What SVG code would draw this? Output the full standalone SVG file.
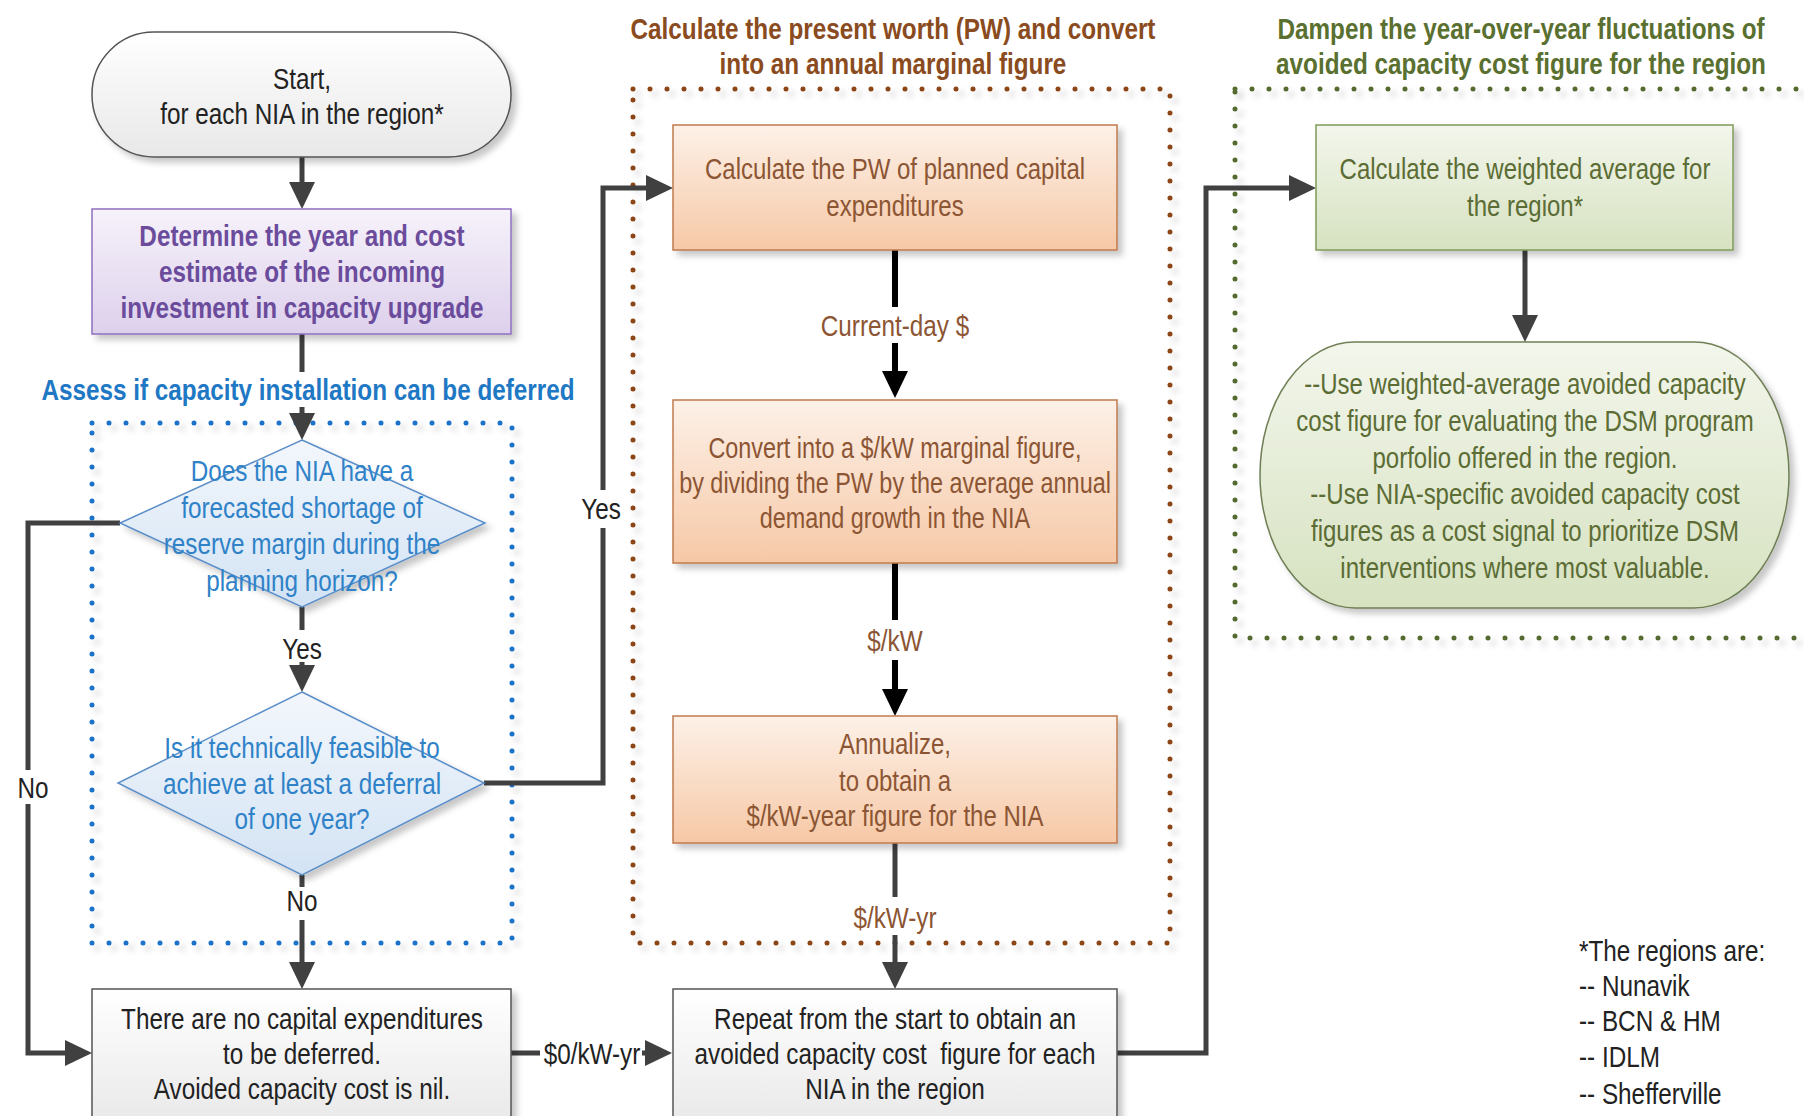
<svg xmlns="http://www.w3.org/2000/svg" width="1804" height="1116" viewBox="0 0 1804 1116">
<style>
.t{font-family:"Liberation Sans",Arial,sans-serif;font-size:30px;text-anchor:middle}
.b{font-weight:bold}
.dk{fill:#222}
.pu{fill:#6b4c9c}
.bl{fill:#1f78c4}
.bt{fill:#2f82c8}
.br{fill:#8a4b20}
.or{fill:#8c5533}
.gt{fill:#5a7030}
.gn{fill:#5b6c34}
.con{fill:none;stroke:#404040;stroke-width:5}
.conb{fill:none;stroke:#000;stroke-width:6}
.dot{fill:none;stroke-width:5;stroke-linecap:round;stroke-dasharray:0 17}
</style>
<defs>
<filter id="sh" x="-10%" y="-10%" width="125%" height="130%">
<feDropShadow dx="5" dy="5" stdDeviation="3" flood-color="#000" flood-opacity="0.22"/>
</filter>
<linearGradient id="gGrey" x1="0" y1="0" x2="0" y2="1"><stop offset="0" stop-color="#ffffff"/><stop offset="1" stop-color="#e8e8e8"/></linearGradient>
<linearGradient id="gPur" x1="0" y1="0" x2="0" y2="1"><stop offset="0" stop-color="#f6f2fa"/><stop offset="1" stop-color="#ddd0ec"/></linearGradient>
<linearGradient id="gBlu" x1="0" y1="0" x2="0" y2="1"><stop offset="0" stop-color="#f3f7fc"/><stop offset="1" stop-color="#d3e3f4"/></linearGradient>
<linearGradient id="gOr" x1="0" y1="0" x2="0" y2="1"><stop offset="0" stop-color="#fdf1e8"/><stop offset="1" stop-color="#f6c8a6"/></linearGradient>
<linearGradient id="gGr" x1="0" y1="0" x2="0" y2="1"><stop offset="0" stop-color="#f3f6ec"/><stop offset="1" stop-color="#d6e2c0"/></linearGradient>
<marker id="ah" markerUnits="userSpaceOnUse" markerWidth="28" markerHeight="26" viewBox="0 0 28 26" refX="1" refY="13" orient="auto"><path d="M0,0 L27,13 L0,26 z" fill="#404040"/></marker>
<marker id="ahb" markerUnits="userSpaceOnUse" markerWidth="28" markerHeight="26" viewBox="0 0 28 26" refX="1" refY="13" orient="auto"><path d="M0,0 L27,13 L0,26 z" fill="#000"/></marker>
</defs>
<rect width="1804" height="1116" fill="#fff"/>

<!-- section frames -->
<g id="frame-assess">
<rect class="dot" x="92" y="423" width="420" height="520" stroke="#1a72c8" filter="url(#sh)"/>
<text class="t b bl" transform="translate(308 0) scale(0.81 1)" x="0" y="400">Assess if capacity installation can be deferred</text>
</g>
<g id="frame-pw">
<rect class="dot" x="633" y="89" width="537" height="854" stroke="#8b4513" filter="url(#sh)"/>
<text class="t b br" transform="translate(893 0) scale(0.81 1)"><tspan x="0" y="39">Calculate the present worth (PW) and convert</tspan><tspan x="0" y="74">into an annual marginal figure</tspan></text>
</g>
<g id="frame-dampen">
<rect class="dot" x="1235" y="89" width="600" height="549" stroke="#556b2f" filter="url(#sh)"/>
<text class="t b gt" transform="translate(1521 0) scale(0.81 1)"><tspan x="0" y="39">Dampen the year-over-year fluctuations of</tspan><tspan x="0" y="74">avoided capacity cost figure for the region</tspan></text>
</g>

<!-- connectors -->
<g id="connectors">
<path class="con" d="M302,157 V183" marker-end="url(#ah)"/>
<path class="con" d="M302,334 V372 M302,407 V414" marker-end="url(#ah)"/>
<path class="con" d="M120,523 H28 V770 M28,804 V1053 H66" marker-end="url(#ah)"/>
<path class="con" d="M302,607 V630 M302,662 V666" marker-end="url(#ah)"/>
<path class="con" d="M484,783 H603 V528 M603,490 V188 H647" marker-end="url(#ah)"/>
<path class="con" d="M302,875 V887 M302,920 V963" marker-end="url(#ah)"/>
<path class="con" d="M511,1053 H540 M642,1053 H646" marker-end="url(#ah)"/>
<path class="conb" d="M895,250 V307 M895,343 V372" marker-end="url(#ahb)"/>
<path class="conb" d="M895,563 V620 M895,660 V690" marker-end="url(#ahb)"/>
<path class="con" d="M895,843 V897 M895,935 V963" marker-end="url(#ah)"/>
<path class="con" d="M1117,1053 H1206 V188 H1290" marker-end="url(#ah)"/>
<path class="con" d="M1525,250 V316" marker-end="url(#ah)"/>
<text class="t dk" transform="translate(302 0) scale(0.81 1)" x="0" y="659">Yes</text>
<text class="t dk" transform="translate(302 0) scale(0.81 1)" x="0" y="911">No</text>
<text class="t dk" transform="translate(33 0) scale(0.81 1)" x="0" y="798">No</text>
<text class="t dk" transform="translate(601 0) scale(0.81 1)" x="0" y="519">Yes</text>
<text class="t dk" transform="translate(592 0) scale(0.81 1)" x="0" y="1064">$0/kW-yr</text>
<text class="t or" transform="translate(895 0) scale(0.81 1)" x="0" y="336">Current-day $</text>
<text class="t or" transform="translate(895 0) scale(0.81 1)" x="0" y="651">$/kW</text>
<text class="t or" transform="translate(895 0) scale(0.81 1)" x="0" y="928">$/kW-yr</text>
</g>

<!-- nodes -->
<g id="start">
<rect x="92" y="32" width="419" height="125" rx="62" ry="62" fill="url(#gGrey)" stroke="#555" stroke-width="1.5" filter="url(#sh)"/>
<text class="t dk" transform="translate(302 0) scale(0.81 1)"><tspan x="0" y="89">Start,</tspan><tspan x="0" y="124">for each NIA in the region*</tspan></text>
</g>
<g id="determine">
<rect x="92" y="209" width="419" height="125" fill="url(#gPur)" stroke="#8e6fc0" stroke-width="1.5" filter="url(#sh)"/>
<text class="t b pu" transform="translate(302 0) scale(0.81 1)"><tspan x="0" y="246">Determine the year and cost</tspan><tspan x="0" y="282">estimate of the incoming</tspan><tspan x="0" y="318">investment in capacity upgrade</tspan></text>
</g>
<g id="decision-shortage">
<polygon points="302,440 485,523 302,607 120,523" fill="url(#gBlu)" stroke="#5b8ec8" stroke-width="1.5" filter="url(#sh)"/>
<text class="t bt" transform="translate(302 0) scale(0.81 1)"><tspan x="0" y="481">Does the NIA have a</tspan><tspan x="0" y="518">forecasted shortage of</tspan><tspan x="0" y="554">reserve margin during the</tspan><tspan x="0" y="591">planning horizon?</tspan></text>
</g>
<g id="decision-feasible">
<polygon points="302,692 484,783 302,875 118,783" fill="url(#gBlu)" stroke="#5b8ec8" stroke-width="1.5" filter="url(#sh)"/>
<text class="t bt" transform="translate(302 0) scale(0.81 1)"><tspan x="0" y="758">Is it technically feasible to</tspan><tspan x="0" y="794">achieve at least a deferral</tspan><tspan x="0" y="829">of one year?</tspan></text>
</g>
<g id="no-capex">
<rect x="92" y="989" width="419" height="140" fill="url(#gGrey)" stroke="#555" stroke-width="1.5" filter="url(#sh)"/>
<text class="t dk" transform="translate(302 0) scale(0.81 1)"><tspan x="0" y="1029">There are no capital expenditures</tspan><tspan x="0" y="1064">to be deferred.</tspan><tspan x="0" y="1099">Avoided capacity cost is nil.</tspan></text>
</g>
<g id="calc-pw">
<rect x="673" y="125" width="444" height="125" fill="url(#gOr)" stroke="#c07a4c" stroke-width="1.5" filter="url(#sh)"/>
<text class="t or" transform="translate(895 0) scale(0.8 1)"><tspan x="0" y="179">Calculate the PW of planned capital</tspan><tspan x="0" y="216">expenditures</tspan></text>
</g>
<g id="convert">
<rect x="673" y="400" width="444" height="163" fill="url(#gOr)" stroke="#c07a4c" stroke-width="1.5" filter="url(#sh)"/>
<text class="t or" transform="translate(895 0) scale(0.78 1)"><tspan x="0" y="458">Convert into a $/kW marginal figure,</tspan><tspan x="0" y="493">by dividing the PW by the average annual</tspan><tspan x="0" y="528">demand growth in the NIA</tspan></text>
</g>
<g id="annualize">
<rect x="673" y="716" width="444" height="127" fill="url(#gOr)" stroke="#c07a4c" stroke-width="1.5" filter="url(#sh)"/>
<text class="t or" transform="translate(895 0) scale(0.8 1)"><tspan x="0" y="754">Annualize,</tspan><tspan x="0" y="791">to obtain a</tspan><tspan x="0" y="826">$/kW-year figure for the NIA</tspan></text>
</g>
<g id="repeat">
<rect x="673" y="989" width="444" height="140" fill="url(#gGrey)" stroke="#555" stroke-width="1.5" filter="url(#sh)"/>
<text class="t dk" transform="translate(895 0) scale(0.81 1)" xml:space="preserve"><tspan x="0" y="1029">Repeat from the start to obtain an</tspan><tspan x="0" y="1064">avoided capacity cost  figure for each</tspan><tspan x="0" y="1099">NIA in the region</tspan></text>
</g>
<g id="weighted-average">
<rect x="1316" y="125" width="417" height="125" fill="url(#gGr)" stroke="#7f9a5a" stroke-width="1.5" filter="url(#sh)"/>
<text class="t gn" transform="translate(1525 0) scale(0.8 1)"><tspan x="0" y="179">Calculate the weighted average for</tspan><tspan x="0" y="216">the region*</tspan></text>
</g>
<g id="use-figures">
<rect x="1260" y="342" width="529" height="266" rx="95" ry="133" fill="url(#gGr)" stroke="#6f7f55" stroke-width="1.5" filter="url(#sh)"/>
<text class="t gn" transform="translate(1525 0) scale(0.8 1)"><tspan x="0" y="394">--Use weighted-average avoided capacity</tspan><tspan x="0" y="431">cost figure for evaluating the DSM program</tspan><tspan x="0" y="468">porfolio offered in the region.</tspan><tspan x="0" y="504">--Use NIA-specific avoided capacity cost</tspan><tspan x="0" y="541">figures as a cost signal to prioritize DSM</tspan><tspan x="0" y="578">interventions where most valuable.</tspan></text>
</g>
<g id="note">
<text class="t dk" style="text-anchor:start" transform="translate(1579 0) scale(0.81 1)"><tspan x="0" y="961">*The regions are:</tspan><tspan x="0" y="996">-- Nunavik</tspan><tspan x="0" y="1031">-- BCN &amp; HM</tspan><tspan x="0" y="1067">-- IDLM</tspan><tspan x="0" y="1104">-- Shefferville</tspan></text>
</g>
</svg>
